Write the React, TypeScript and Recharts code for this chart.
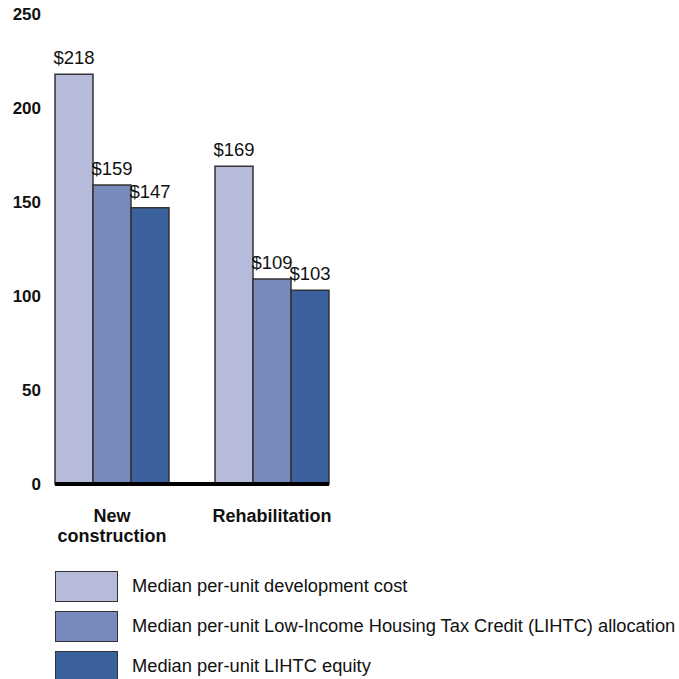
import { BarChart, Bar, XAxis, YAxis, LabelList, Text } from "recharts";

const categories = ["New construction", "Rehabilitation"];
const devCost = [218, 169];
const lihtcAllocation = [159, 109];
const lihtcEquity = [147, 103];
const yTicks = [0, 50, 100, 150, 200, 250];

const seriesNames = [
  "Median per-unit development cost",
  "Median per-unit Low-Income Housing Tax Credit (LIHTC) allocation",
  "Median per-unit LIHTC equity",
];
const seriesKeys = ["dev", "alloc", "equity"];
const seriesColors = ["#b7bbdb", "#7889bb", "#3a609e"];

const data = categories.map((name, i) => ({
  name,
  dev: devCost[i],
  alloc: lihtcAllocation[i],
  equity: lihtcEquity[i],
}));

const FONT = '"Liberation Sans", Arial, sans-serif';

const CategoryTick = (props: any) => {
  const { x, y, payload } = props;
  return (
    <Text
      x={x}
      y={y + 23}
      width={110}
      textAnchor="middle"
      verticalAnchor="start"
      lineHeight={20}
      fontSize={18}
      fontWeight="bold"
      fontFamily={FONT}
      fill="#111"
    >
      {payload.value}
    </Text>
  );
};

export default function App() {
  return (
    <div
      style={{
        position: "absolute",
        left: 0,
        top: 0,
        width: 679,
        height: 679,
        overflow: "hidden",
        background: "#fff",
        fontFamily: FONT,
      }}
    >
      <BarChart
        width={679}
        height={560}
        data={data}
        margin={{ top: 14, right: 350, left: 0, bottom: 0 }}
        barGap={0}
        barCategoryGap={23}
      >
        <XAxis
          dataKey="name"
          height={76}
          padding={{ left: -23, right: -23 }}
          axisLine={{ stroke: "#000", strokeWidth: 4 }}
          tickLine={false}
          tickSize={0}
          tick={<CategoryTick />}
          interval={0}
        />
        <YAxis
          width={55}
          domain={[0, 250]}
          ticks={yTicks}
          axisLine={false}
          tickLine={false}
          tickSize={0}
          tickMargin={14}
          tick={{ fontSize: 17, fontWeight: "bold", fill: "#111", fontFamily: FONT }}
        />
        {seriesKeys.map((k, i) => (
          <Bar
            key={k}
            dataKey={k}
            name={seriesNames[i]}
            fill={seriesColors[i]}
            stroke="#333"
            strokeWidth={1.5}
            barSize={38}
            isAnimationActive={false}
          >
            <LabelList
              dataKey={k}
              position="top"
              offset={10}
              formatter={(v: any) => `$${v}`}
              style={{ fontSize: 18.5, fill: "#111", fontFamily: FONT }}
            />
          </Bar>
        ))}
      </BarChart>
      <div style={{ position: "absolute", left: 55, top: 570 }}>
        {seriesNames.map((n, i) => (
          <div
            key={n}
            style={{ display: "flex", alignItems: "center", height: 32, marginBottom: 8 }}
          >
            <div
              style={{
                width: 61,
                height: 29,
                background: seriesColors[i],
                border: "1.5px solid #333",
              }}
            />
            <span style={{ marginLeft: 14, fontSize: 18.3, color: "#111", whiteSpace: "nowrap" }}>
              {n}
            </span>
          </div>
        ))}
      </div>
    </div>
  );
}
